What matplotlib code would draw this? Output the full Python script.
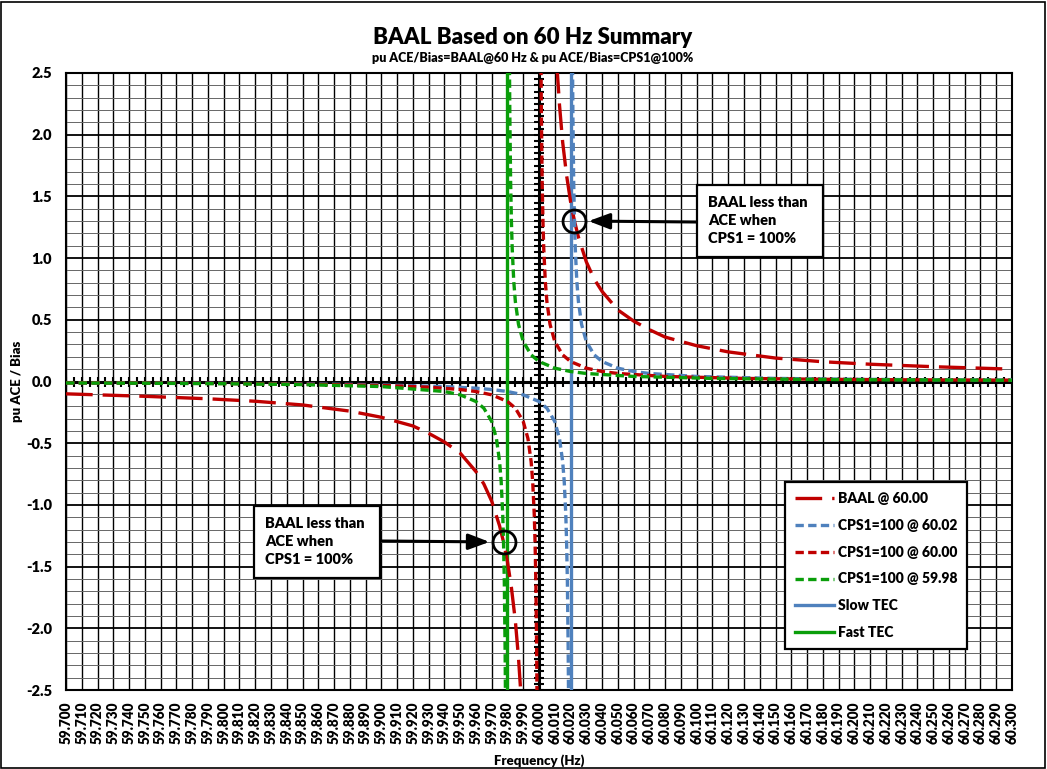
import numpy as np
import matplotlib
matplotlib.use('Agg')
import matplotlib.pyplot as plt
from matplotlib.patches import Rectangle

nan = np.nan

# BAAL @ 60.00 (pu ACE/Bias), two branches split by nan
baal_hz = [59.700, 59.750, 59.790, 59.820, 59.850, 59.880, 59.900, 59.920, 59.930, 59.940,
           59.950, 59.960, 59.965, 59.970, 59.975, 59.9775, 59.980, 59.9825, 59.985, 59.987, 59.9886,
           nan,
           60.0114, 60.013, 60.015, 60.0175, 60.020, 60.0225, 60.025, 60.030, 60.035, 60.040,
           60.050, 60.060, 60.070, 60.080, 60.100, 60.120, 60.150, 60.180, 60.210, 60.250, 60.300]
baal_pu = [-0.10, -0.12, -0.14, -0.16, -0.19, -0.24, -0.29, -0.36, -0.42, -0.49,
           -0.58, -0.73, -0.83, -0.97, -1.17, -1.30, -1.46, -1.67, -1.94, -2.24, -2.55,
           nan,
           2.55, 2.24, 1.94, 1.67, 1.46, 1.30, 1.17, 0.97, 0.83, 0.73,
           0.58, 0.49, 0.42, 0.36, 0.29, 0.24, 0.19, 0.16, 0.14, 0.12, 0.10]

# CPS1 = 100% curves
cps_6002_hz = [59.700, 59.750, 59.790, 59.840, 59.890, 59.940, 59.960, 59.970, 59.980, 59.990,
               60.000, 60.005, 60.010, 60.013, 60.015, 60.016, 60.017, 60.0175, 60.018, 60.0185, 60.01873,
               nan,
               60.02127, 60.0215, 60.022, 60.0225, 60.023, 60.024, 60.025, 60.027, 60.030, 60.035,
               60.040, 60.050, 60.060, 60.070, 60.100, 60.150, 60.200, 60.250, 60.300]
cps_6002_pu = [-0.010, -0.012, -0.014, -0.018, -0.025, -0.041, -0.054, -0.065, -0.081, -0.108,
               -0.162, -0.216, -0.324, -0.463, -0.648, -0.81, -1.08, -1.30, -1.62, -2.16, -2.55,
               nan,
               2.55, 2.16, 1.62, 1.30, 1.08, 0.81, 0.648, 0.463, 0.324, 0.216,
               0.162, 0.108, 0.081, 0.065, 0.041, 0.025, 0.018, 0.014, 0.012]

cps_6000_hz = [59.700, 59.750, 59.800, 59.850, 59.900, 59.930, 59.950, 59.960, 59.970, 59.980,
               59.985, 59.990, 59.993, 59.995, 59.996, 59.997, 59.9975, 59.998, 59.9985, 59.99873,
               nan,
               60.00127, 60.0015, 60.002, 60.0025, 60.003, 60.004, 60.005, 60.007, 60.010, 60.015,
               60.020, 60.030, 60.040, 60.050, 60.080, 60.130, 60.180, 60.230, 60.300]
cps_6000_pu = [-0.011, -0.013, -0.016, -0.022, -0.032, -0.046, -0.065, -0.081, -0.108, -0.162,
               -0.216, -0.324, -0.463, -0.648, -0.81, -1.08, -1.30, -1.62, -2.16, -2.55,
               nan,
               2.55, 2.16, 1.62, 1.30, 1.08, 0.81, 0.648, 0.463, 0.324, 0.216,
               0.162, 0.108, 0.081, 0.065, 0.041, 0.025, 0.018, 0.014, 0.011]

cps_5998_hz = [59.700, 59.750, 59.800, 59.850, 59.900, 59.940, 59.950, 59.960, 59.965, 59.970,
               59.973, 59.975, 59.976, 59.977, 59.9775, 59.978, 59.9785, 59.97873,
               nan,
               59.98127, 59.9815, 59.982, 59.9825, 59.983, 59.984, 59.985, 59.987, 59.990, 59.995,
               60.000, 60.010, 60.020, 60.030, 60.060, 60.110, 60.160, 60.210, 60.300]
cps_5998_pu = [-0.012, -0.014, -0.018, -0.025, -0.041, -0.081, -0.108, -0.162, -0.216, -0.324,
               -0.463, -0.648, -0.81, -1.08, -1.30, -1.62, -2.16, -2.55,
               nan,
               2.55, 2.16, 1.62, 1.30, 1.08, 0.81, 0.648, 0.463, 0.324, 0.216,
               0.162, 0.108, 0.081, 0.065, 0.041, 0.025, 0.018, 0.014, 0.010]

slow_tec_hz = 60.02
fast_tec_hz = 59.98

# BAAL / CPS1 crossings that get circled
cross_hz = [60.0225, 59.9775]
cross_pu = [1.30, -1.30]
note_text = 'BAAL less than\nACE when\nCPS1 = 100%'

red = '#C00000'
blue = '#4F81BD'
green = '#0A9E0A'
HV = 'heavy'

plt.rcParams['font.family'] = ['Lato', 'DejaVu Sans']
plt.rcParams['font.weight'] = 'bold'
plt.rcParams['axes.unicode_minus'] = False

W, H = 1047, 769
fig = plt.figure(figsize=(W / 100, H / 100), dpi=100)
ax = fig.add_axes([66 / W, 1 - 690 / H, 946 / W, 617 / H])
ax.set_xlim(59.70, 60.30)
ax.set_ylim(-2.5, 2.5)

xt = np.round(np.arange(59.70, 60.3001, 0.01), 3)
ax.set_xticks(xt)
ax.set_xticklabels(['%.3f' % t for t in xt], rotation=90, fontsize=9.8, fontweight=HV)
yt = np.round(np.arange(-2.5, 2.501, 0.5), 1)
ax.set_yticks(yt)
ax.set_yticklabels(['%.1f' % t for t in yt], fontsize=10.5, fontweight=HV)
ax.set_yticks(np.round(np.arange(-2.5, 2.501, 0.1), 1), minor=True)
ax.tick_params(which='both', length=0)
ax.tick_params(axis='y', pad=10)
ax.tick_params(axis='x', pad=8)

ax.set_axisbelow(True)
ax.grid(axis='x', which='major', color='black', lw=1.0)
ax.grid(axis='y', which='major', color='black', lw=1.3)
ax.grid(axis='y', which='minor', color='#666666', lw=0.7)
for s in ax.spines.values():
    s.set_linewidth(1.5)

# axes crossing at 0 and 60.000 with cross ticks
ax.axhline(0, color='black', lw=2.2, zorder=2)
ax.axvline(60.0, color='black', lw=2.2, zorder=2)
xm = np.arange(59.70, 60.3001, 0.005)
ax.plot(xm, np.zeros_like(xm), ls='none', marker='|', ms=7, mew=1.5, color='black', zorder=2)
ym = np.arange(-2.5, 2.501, 0.05)
ax.plot(np.full_like(ym, 60.0), ym, ls='none', marker='_', ms=7, mew=1.5, color='black', zorder=2)

ax.plot(baal_hz, baal_pu, color=red, lw=2.4, dashes=(8, 3), label='BAAL @ 60.00', zorder=4)
ax.plot(cps_6002_hz, cps_6002_pu, color=blue, lw=2.4, dashes=(2.5, 1.3), label='CPS1=100 @ 60.02', zorder=4)
ax.plot(cps_6000_hz, cps_6000_pu, color=red, lw=2.4, dashes=(2.5, 1.3), label='CPS1=100 @ 60.00', zorder=4)
ax.plot(cps_5998_hz, cps_5998_pu, color=green, lw=2.4, dashes=(2.5, 1.3), label='CPS1=100 @ 59.98', zorder=4)
ax.axvline(slow_tec_hz, color=blue, lw=2.4, label='Slow TEC', zorder=3)
ax.axvline(fast_tec_hz, color=green, lw=2.4, label='Fast TEC', zorder=3)

ax.plot(cross_hz, cross_pu, ls='none', marker='o', ms=16.5, mfc='none', mec='black', mew=2.0, zorder=8)

# call-out boxes with arrows
boxes = [(0.667, 0.7018, (60.0314, 1.30), (0.667, 0.7585)),
         (0.1987, 0.1815, (59.9686, -1.30), (0.1987 + 0.133, 0.2415))]
for bx, by, tip, tail in boxes:
    ax.add_patch(Rectangle((bx, by), 0.133, 0.117, transform=ax.transAxes,
                           fc='white', ec='black', lw=1.6, zorder=10))
    ax.text(bx + 11 / 946, by + 0.117 / 2, note_text, transform=ax.transAxes,
            ha='left', va='center', fontsize=10.5, fontweight=HV, linespacing=1.45, zorder=11)
    ax.annotate('', xy=tip, xycoords='data', xytext=tail, textcoords='axes fraction',
                arrowprops=dict(arrowstyle='-|>,head_length=0.8,head_width=0.3', color='black',
                                lw=2.2, mutation_scale=16, shrinkA=0, shrinkB=0), zorder=9)

leg = ax.legend(loc='upper left', bbox_to_anchor=(0.760, 0.337), fancybox=False, edgecolor='black',
                framealpha=1, prop={'size': 10, 'weight': HV}, labelspacing=1.0,
                handlelength=2.8, handletextpad=0.3, borderpad=0.7, borderaxespad=0)
leg.get_frame().set_linewidth(1.6)
leg.set_zorder(12)

ax.set_xlabel('Frequency (Hz)', fontsize=9.5, fontweight=HV, labelpad=8)
ax.set_ylabel('pu ACE / Bias', fontsize=9.5, fontweight=HV, labelpad=2)

fig.text(0.509, 1 - 37 / H, 'BAAL Based on 60 Hz Summary', ha='center', va='center',
         fontsize=16, fontweight=HV)
fig.text(0.509, 1 - 58 / H, 'pu ACE/Bias=BAAL@60 Hz & pu ACE/Bias=CPS1@100%', ha='center', va='center',
         fontsize=9, fontweight=HV)

fig.add_artist(Rectangle((0.001, 0.001), 0.997, 0.997, transform=fig.transFigure,
                         fill=False, ec='black', lw=1.2))

fig.savefig('out.png', dpi=100)
